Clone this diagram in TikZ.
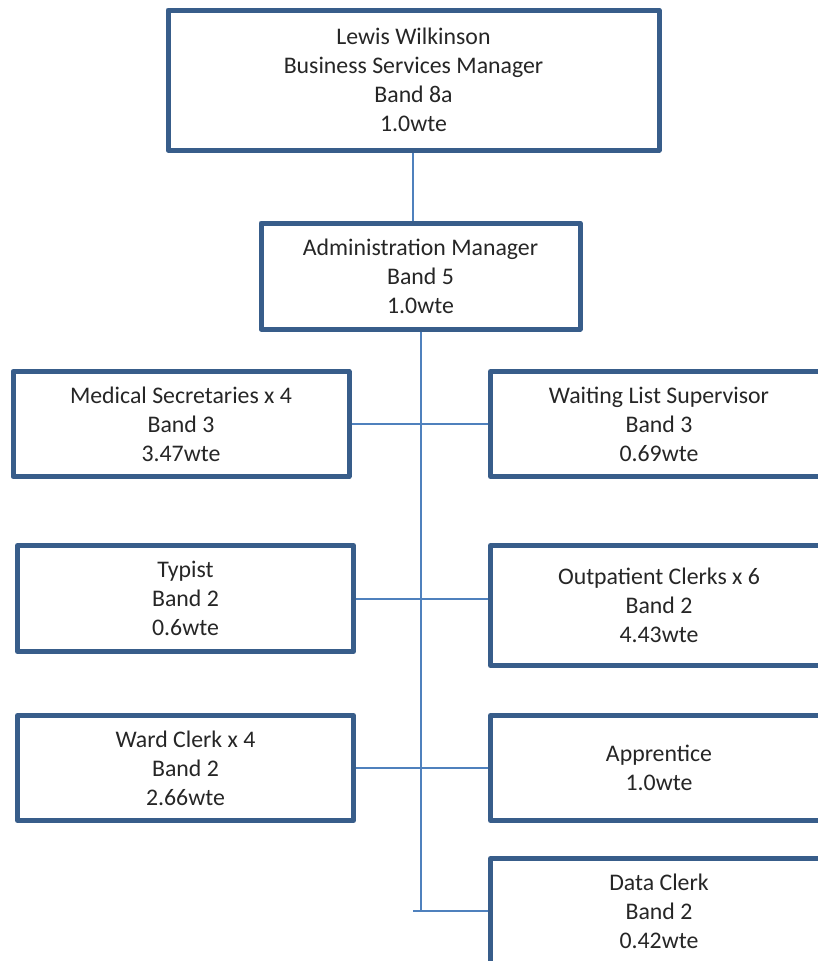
\documentclass[tikz,border=0pt]{standalone}
\usepackage{fontspec}
\setmainfont{Carlito}
\definecolor{boxline}{HTML}{385D8A}
\definecolor{conn}{HTML}{4F81BD}
\definecolor{txt}{HTML}{262626}
\begin{document}
\begin{tikzpicture}[x=1pt,y=-1pt,
  box/.style={draw=boxline, line width=5pt, fill=white, rectangle, line join=round,
    align=center, text=txt, inner sep=0pt,
    font=\fontsize{23.8}{29}\selectfont},
  link/.style={draw=conn, line width=2pt}]
\clip (0,0) rectangle (818,961);
\fill[white] (0,0) rectangle (818,961);
% nodes
\node[box, minimum width=491pt, minimum height=140pt] (top) at (413.5,80) {Lewis Wilkinson\\Business Services Manager\\Band 8a\\1.0wte};
\node[box, minimum width=319pt, minimum height=106pt] (adm) at (420.5,276) {Administration Manager\\Band 5\\1.0wte};
\node[box, minimum width=336pt, minimum height=105pt] (med) at (181,424) {Medical Secretaries x 4\\Band 3\\3.47wte};
\node[box, minimum width=337pt, minimum height=105pt] (wait) at (659,424) {Waiting List Supervisor\\Band 3\\0.69wte};
\node[box, minimum width=336pt, minimum height=106pt] (typ) at (185.5,598.5) {Typist\\Band 2\\0.6wte};
\node[box, minimum width=337pt, minimum height=120pt] (out) at (659,605.5) {Outpatient Clerks x 6\\Band 2\\4.43wte};
\node[box, minimum width=336pt, minimum height=105pt] (ward) at (185.5,768) {Ward Clerk x 4\\Band 2\\2.66wte};
\node[box, minimum width=337pt, minimum height=105pt] (app) at (659,768) {Apprentice\\1.0wte};
\node[box, minimum width=337pt, minimum height=105pt] (data) at (659,911) {Data Clerk\\Band 2\\0.42wte};
% connectors
\coordinate (stub) at (413,911);
\draw[link] (top.south -| 413,0) -- (adm.north -| 413,0);
\draw[link] (adm.south) -- (adm.south |- data.west);
\draw[link] (med.east) -- (wait.west);
\draw[link] (typ.east) -- (typ.east -| out.west);
\draw[link] (ward.east) -- (app.west);
\draw[link] (stub) -- (data.west);
\end{tikzpicture}
\end{document}
